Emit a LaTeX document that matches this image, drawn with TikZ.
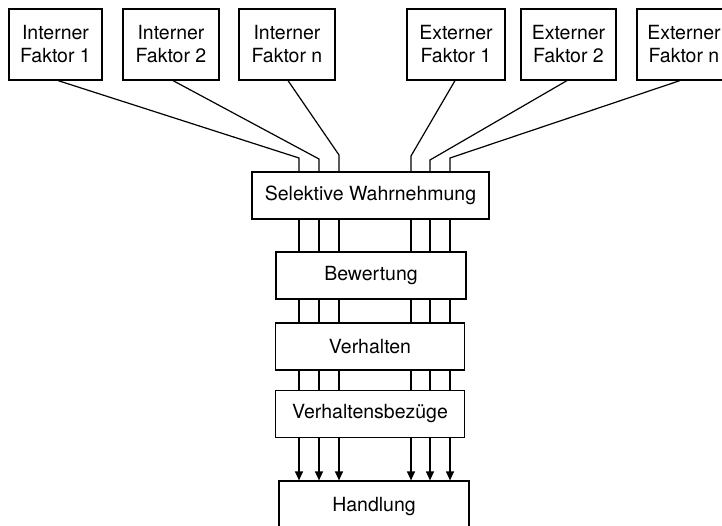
\documentclass[tikz,border=0pt]{standalone}
\usepackage{fontspec}
\setmainfont{TeX Gyre Heros}
\usetikzlibrary{arrows.meta}
\begin{document}
\begin{tikzpicture}[x=1pt,y=-1pt,
  box/.style={draw,line width=1.2pt,inner sep=0pt,align=center,
    font=\fontsize{19.5}{23}\selectfont},
  topbox/.style={box,minimum width=#1,minimum height=71},
  midbox/.style={box,minimum width=#1,minimum height=47},
  wire/.style={line width=1.2pt},
  arr/.style={wire,-{Triangle[length=9pt,width=8pt]}}]
\useasboundingbox (0,0) rectangle (722,526);
\clip (0,0) rectangle (722,526);
% top boxes
\node[topbox=93] (i1) at (55.5,44.5) {Interner\\Faktor 1};
\node[topbox=96] (i2) at (171,44.5) {Interner\\Faktor 2};
\node[topbox=96] (i3) at (287,44.5) {Interner\\Faktor n};
\node[topbox=98] (e1) at (456,44.5) {Externer\\Faktor 1};
\node[topbox=95] (e2) at (568.5,44.5) {Externer\\Faktor 2};
\node[topbox=94] (e3) at (684,44.5) {Externer\\Faktor n};
% chain
\node[midbox=237] (sw) at (370.5,195.5) {Selektive Wahrnehmung};
\node[midbox=190] (bw) at (371,275.5) {Bewertung};
\node[midbox=189] (vh) at (370,346.5) {Verhalten};
\node[midbox=189] (vb) at (370,414) {Verhaltensbezüge};
\node[midbox=190,minimum height=52] (hd) at (374,507) {Handlung};
% bend coordinates
\coordinate (b1) at (299,158);
\coordinate (b2) at (319,159);
\coordinate (b3) at (339,155);
\coordinate (b4) at (411,156);
\coordinate (b5) at (430,160);
\coordinate (b6) at (450,158);
% inputs
\draw[wire] ([xshift=2.5pt]i1.south) -- (b1) -- (b1 |- sw.north);
\draw[wire] ([xshift=2pt]i2.south) -- (b2) -- (b2 |- sw.north);
\draw[wire] ([xshift=1pt]i3.south) -- (b3) -- (b3 |- sw.north);
\draw[wire] ([xshift=-1pt]e1.south) -- (b4) -- (b4 |- sw.north);
\draw[wire] ([xshift=-1.5pt]e2.south) -- (b5) -- (b5 |- sw.north);
\draw[wire] ([xshift=-4pt]e3.south) -- (b6) -- (b6 |- sw.north);
% parallel lines
\foreach \b in {b1,b2,b3,b4,b5,b6}{
  \draw[wire] (\b |- sw.south) -- (\b |- bw.north);
  \draw[wire] (\b |- bw.south) -- (\b |- vh.north);
  \draw[wire] (\b |- vh.south) -- (\b |- vb.north);
  \draw[arr] (\b |- vb.south) -- (\b |- hd.north);
}
\end{tikzpicture}
\end{document}
